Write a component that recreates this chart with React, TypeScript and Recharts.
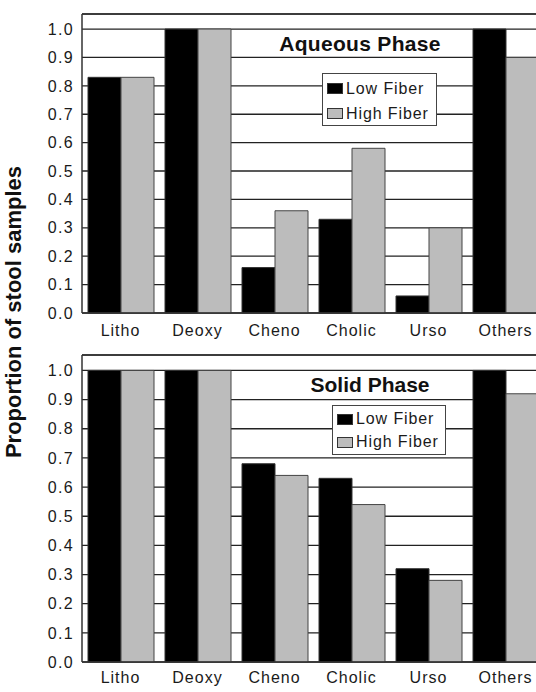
import React from 'react';
import { BarChart, Bar, XAxis, YAxis, CartesianGrid, ReferenceLine, Legend } from 'recharts';

const categories = ['Litho', 'Deoxy', 'Cheno', 'Cholic', 'Urso', 'Others'];
const aqueousLow = [0.83, 1.0, 0.16, 0.33, 0.06, 1.0];
const aqueousHigh = [0.83, 1.0, 0.36, 0.58, 0.3, 0.9];
const solidLow = [1.0, 1.0, 0.68, 0.63, 0.32, 1.0];
const solidHigh = [1.0, 1.0, 0.64, 0.54, 0.28, 0.92];
const yTicks = [0, 0.1, 0.2, 0.3, 0.4, 0.5, 0.6, 0.7, 0.8, 0.9, 1.0];
const seriesNames = ['Low Fiber', 'High Fiber'];

const Y_MAX = 1.053;
const FONT = '"Liberation Sans", Arial, sans-serif';
const LOW_FILL = '#000000';
const HIGH_FILL = '#bcbcbc';

const buildRows = (low: number[], high: number[]) =>
  categories.map((name, i) => ({ name, low: low[i], high: high[i] }));

const aqueousData = buildRows(aqueousLow, aqueousHigh);
const solidData = buildRows(solidLow, solidHigh);

// legend box, drawn as html over the plot
const FiberLegend = ({ width, height, pitch, padTop, padLeft }: any) => (
  <div
    style={{
      boxSizing: 'border-box',
      width,
      height,
      border: '1.5px solid #444',
      background: '#fff',
      paddingTop: padTop,
      paddingLeft: padLeft,
      fontFamily: FONT,
    }}
  >
    {seriesNames.map((n, i) => (
      <div key={n} style={{ display: 'flex', alignItems: 'center', height: pitch }}>
        <div
          style={{
            boxSizing: 'border-box',
            width: 16,
            height: 11,
            background: i === 0 ? LOW_FILL : HIGH_FILL,
            border: '1px solid #333',
            marginRight: 3,
          }}
        />
        <span style={{ fontSize: 16, letterSpacing: 0.9, color: '#1a1a1a', lineHeight: 1 }}>{n}</span>
      </div>
    ))}
  </div>
);

const PhasePanel = ({ data, top, height, marginTop, xTickMargin, legendPos }: any) => (
  <div style={{ position: 'absolute', left: 0, top }}>
    <BarChart
      width={560}
      height={height}
      data={data}
      margin={{ top: marginTop, right: 16, bottom: 0, left: 0 }}
      barCategoryGap={6}
      barGap={0}
    >
      <CartesianGrid vertical={false} stroke="#222" strokeWidth={1.3} />
      <XAxis
        dataKey="name"
        interval={0}
        tickLine={false}
        tickMargin={xTickMargin}
        height={30}
        axisLine={{ stroke: '#333', strokeWidth: 1.5 }}
        tick={{ fontSize: 16, fill: '#1a1a1a', fontFamily: FONT, letterSpacing: 1 }}
      />
      <YAxis
        width={82}
        domain={[0, Y_MAX]}
        ticks={yTicks}
        tickFormatter={(v: number) => v.toFixed(1)}
        tickLine={false}
        axisLine={{ stroke: '#333', strokeWidth: 1.5 }}
        tick={{ fontSize: 16, fill: '#1a1a1a', fontFamily: FONT, letterSpacing: 1.3 }}
      />
      <ReferenceLine y={Y_MAX} stroke="#333" strokeWidth={1.5} />
      <Legend
        layout="vertical"
        align="center"
        verticalAlign="middle"
        wrapperStyle={{ top: legendPos.top, left: legendPos.left, width: legendPos.width }}
        content={() => <FiberLegend {...legendPos} />}
      />
      <Bar dataKey="low" name={seriesNames[0]} fill={LOW_FILL} stroke="#333" strokeWidth={1} isAnimationActive={false} />
      <Bar dataKey="high" name={seriesNames[1]} fill={HIGH_FILL} stroke="#444" strokeWidth={1} isAnimationActive={false} />
    </BarChart>
  </div>
);

export default function App() {
  return (
    <div
      style={{
        position: 'absolute',
        left: 0,
        top: 0,
        width: 536,
        height: 692,
        overflow: 'hidden',
        background: '#fff',
        fontFamily: FONT,
      }}
    >
      <PhasePanel
        data={aqueousData}
        top={0}
        height={343}
        marginTop={14}
        xTickMargin={6}
        legendPos={{ top: 73, left: 322, width: 115, height: 53, pitch: 25, padTop: 2, padLeft: 4 }}
      />
      <PhasePanel
        data={solidData}
        top={343}
        height={349}
        marginTop={12}
        xTickMargin={4}
        legendPos={{ top: 62, left: 332, width: 114, height: 50, pitch: 23.3, padTop: 1.5, padLeft: 4 }}
      />
      {/* titles and shared y label */}
      <svg width={536} height={692} style={{ position: 'absolute', left: 0, top: 0, pointerEvents: 'none' }}>
        <text x={360} y={50.7} textAnchor="middle" fontSize={21} fontWeight="bold" fill="#111" fontFamily={FONT} letterSpacing={0.3}>
          Aqueous Phase
        </text>
        <text x={370} y={392.3} textAnchor="middle" fontSize={21} fontWeight="bold" fill="#111" fontFamily={FONT}>
          Solid Phase
        </text>
        <text
          x={21}
          y={312}
          textAnchor="middle"
          fontSize={22}
          fontWeight="bold"
          fill="#111"
          fontFamily={FONT}
          transform="rotate(-90, 21, 312)"
        >
          Proportion of stool samples
        </text>
      </svg>
    </div>
  );
}
